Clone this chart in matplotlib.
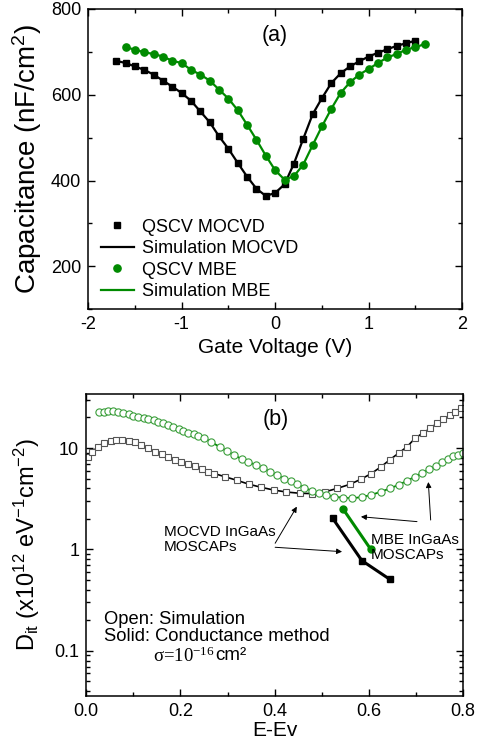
import matplotlib
matplotlib.use('Agg')
import matplotlib.pyplot as plt
from matplotlib.ticker import MultipleLocator, FixedLocator, FixedFormatter, LogLocator, NullFormatter

plt.rcParams['font.family'] = ['Liberation Sans', 'DejaVu Sans']
plt.rcParams['mathtext.default'] = 'regular'
plt.rcParams['axes.unicode_minus'] = False

GREEN = '#008a00'

# --- (a) quasi-static C-V
v_mocvd = [-1.7, -1.6, -1.5, -1.4, -1.3, -1.2, -1.1, -1.0, -0.9, -0.8, -0.7,
           -0.6, -0.5, -0.4, -0.3, -0.2, -0.1, 0.0, 0.1, 0.2, 0.3, 0.4, 0.5,
           0.6, 0.7, 0.8, 0.9, 1.0, 1.1, 1.2, 1.3, 1.4, 1.5]
c_mocvd = [679, 674, 666, 658, 647, 633, 619, 604, 586, 561, 536, 503, 474,
           441, 409, 381, 364, 371, 391, 439, 497, 554, 592, 627, 650, 666,
           678, 689, 698, 706, 714, 720, 726]
v_mbe = [-1.6, -1.5, -1.4, -1.3, -1.2, -1.1, -1.0, -0.9, -0.8, -0.7, -0.6,
         -0.5, -0.4, -0.3, -0.2, -0.1, 0.0, 0.1, 0.2, 0.3, 0.4, 0.5, 0.6,
         0.7, 0.8, 0.9, 1.0, 1.1, 1.2, 1.3, 1.4, 1.5, 1.6]
c_mbe = [711, 705, 699, 695, 689, 679, 674, 658, 647, 633, 612, 591, 564,
         530, 495, 458, 424, 402, 410, 437, 482, 526, 567, 604, 629, 647,
         660, 674, 687, 695, 705, 711, 718]

# --- (b) Dit vs energy
e_sim_mocvd = [0.003, 0.013, 0.025, 0.038, 0.052, 0.064, 0.077, 0.091, 0.104,
               0.117, 0.132, 0.146, 0.160, 0.174, 0.188, 0.202, 0.216, 0.231,
               0.245, 0.259, 0.272, 0.295, 0.320, 0.345, 0.371, 0.398, 0.425,
               0.453, 0.480, 0.507, 0.533, 0.560, 0.584, 0.605, 0.626, 0.645,
               0.663, 0.681, 0.698, 0.714, 0.730, 0.744, 0.758, 0.772, 0.783,
               0.796]
d_sim_mocvd = [8.2, 9.2, 10.3, 11.3, 11.8, 12.0, 12.0, 11.8, 11.5, 10.7, 9.9,
               9.2, 8.7, 8.2, 7.7, 7.3, 6.95, 6.65, 6.2, 5.85, 5.6, 5.2, 4.8,
               4.4, 4.1, 3.85, 3.68, 3.58, 3.55, 3.7, 4.0, 4.39, 4.95, 5.6,
               6.55, 7.7, 8.9, 10.3, 12.5, 14.0, 15.6, 17.5, 19.3, 21.1, 22.8,
               24.6]
e_sim_mbe = [0.028, 0.037, 0.047, 0.057, 0.068, 0.079, 0.090, 0.100, 0.111,
             0.122, 0.132, 0.143, 0.153, 0.163, 0.174, 0.185, 0.196, 0.206,
             0.217, 0.228, 0.238, 0.250, 0.265, 0.284, 0.299, 0.314, 0.330,
             0.344, 0.360, 0.375, 0.390, 0.405, 0.420, 0.434, 0.448, 0.463,
             0.479, 0.493, 0.509, 0.525, 0.545, 0.565, 0.585, 0.605, 0.625,
             0.645, 0.663, 0.681, 0.697, 0.713, 0.728, 0.742, 0.755, 0.767,
             0.778, 0.789, 0.800]
d_sim_mbe = [22.8, 22.8, 23.2, 23.3, 22.8, 22.3, 21.6, 20.8, 20.0, 19.6, 19.2,
             18.7, 18.1, 17.5, 16.9, 16.2, 15.4, 14.8, 14.2, 13.6, 13.1, 12.5,
             11.5, 10.2, 9.3, 8.5, 7.8, 7.3, 6.8, 6.3, 5.85, 5.4, 5.0, 4.73,
             4.39, 4.06, 3.79, 3.58, 3.45, 3.32, 3.23, 3.20, 3.28, 3.45, 3.70,
             4.0, 4.33, 4.75, 5.2, 5.7, 6.15, 6.65, 7.2, 7.8, 8.3, 8.6, 8.9]
e_cond_mocvd = [0.523, 0.585, 0.644]
d_cond_mocvd = [2.03, 0.776, 0.508]
e_cond_mbe = [0.545, 0.604]
d_cond_mbe = [2.51, 1.0]

fig = plt.figure(figsize=(4.84, 7.45), dpi=100)
ax1 = fig.add_axes([0.182, 0.585, 0.773, 0.403])
ax2 = fig.add_axes([0.178, 0.066, 0.779, 0.405])

for ax in (ax1, ax2):
    for s in ax.spines.values():
        s.set_linewidth(1.1)
    ax.tick_params(which='both', direction='in', top=True, right=True,
                   labelsize=13, width=1, pad=5)
    ax.tick_params(which='major', length=5)
    ax.tick_params(which='minor', length=3)

# (a)
l1, = ax1.plot(v_mocvd, c_mocvd, '-', color='k', lw=1.6)
m1, = ax1.plot(v_mocvd, c_mocvd, 's', color='k', ms=4.8, ls='none')
l2, = ax1.plot(v_mbe, c_mbe, '-', color=GREEN, lw=1.6)
m2, = ax1.plot(v_mbe, c_mbe, 'o', color=GREEN, ms=5.2, ls='none')
ax1.set_xlim(-2, 2)
ax1.set_ylim(100, 800)
ax1.xaxis.set_major_locator(MultipleLocator(1))
ax1.xaxis.set_minor_locator(MultipleLocator(0.5))
ax1.yaxis.set_major_locator(FixedLocator([200, 400, 600, 800]))
ax1.yaxis.set_minor_locator(MultipleLocator(100))
ax1.set_xlabel('Gate Voltage (V)', fontsize=15)
ax1.set_ylabel('Capacitance (nF/cm$^2$)', fontsize=20)
ax1.xaxis.set_label_coords(0.5, -0.095)
ax1.yaxis.set_label_coords(-0.118, 0.5)
ax1.text(0.0, 739, '(a)', fontsize=15.5, ha='center', va='center')
ax1.legend([m1, l1, m2, l2],
           ['QSCV MOCVD', 'Simulation MOCVD', 'QSCV MBE', 'Simulation MBE'],
           loc='lower left', bbox_to_anchor=(0.035, 0.03), frameon=False,
           fontsize=13, handlelength=1.8, handletextpad=0.45,
           labelspacing=0.25, borderpad=0, borderaxespad=0)

# (b)
ax2.set_yscale('log')
ax2.plot(e_sim_mocvd, d_sim_mocvd, '-', color='k', lw=1.2, marker='s', ms=5,
         mfc='white', mec='#555555', mew=0.8)
ax2.plot(e_sim_mbe, d_sim_mbe, '-', color=GREEN, lw=1.3, marker='o', ms=5.2,
         mfc='white', mec='#3a9e3a', mew=0.8)
ax2.plot(e_cond_mocvd, d_cond_mocvd, '-s', color='k', lw=2.2, ms=4.5)
ax2.plot(e_cond_mbe, d_cond_mbe, '-o', color=GREEN, lw=2.2, ms=5)
ax2.set_xlim(0, 0.8)
ax2.set_ylim(0.036, 34)
ax2.xaxis.set_major_locator(MultipleLocator(0.2))
ax2.xaxis.set_minor_locator(MultipleLocator(0.1))
ax2.xaxis.set_major_formatter(matplotlib.ticker.FormatStrFormatter('%.1f'))
ax2.yaxis.set_major_locator(FixedLocator([0.1, 1, 10]))
ax2.yaxis.set_major_formatter(FixedFormatter(['0.1', '1', '10']))
ax2.yaxis.set_minor_locator(LogLocator(base=10, subs=range(2, 10)))
ax2.yaxis.set_minor_formatter(NullFormatter())
ax2.set_xlabel('E-Ev', fontsize=15)
ax2.set_ylabel('D$_{it}$ (x10$^{12}$ eV$^{-1}$cm$^{-2}$)', fontsize=17)
ax2.xaxis.set_label_coords(0.5, -0.085)
ax2.yaxis.set_label_coords(-0.117, 0.5)
ax2.text(0.402, 18.9, '(b)', fontsize=15.5, ha='center', va='center')

ax2.text(0.207, 0.517, 'MOCVD InGaAs\nMOSCAPs', transform=ax2.transAxes,
         fontsize=11, ha='left', va='center', linespacing=1.1)
ax2.text(0.756, 0.492, 'MBE InGaAs\nMOSCAPs', transform=ax2.transAxes,
         fontsize=11, ha='left', va='center', linespacing=1.1, clip_on=False)
arrow = dict(arrowstyle='-|>', color='k', lw=0.7, mutation_scale=8,
             shrinkA=0, shrinkB=0)
ax2.annotate('', xy=(0.447, 2.64), xytext=(0.401, 1.15), arrowprops=arrow)
ax2.annotate('', xy=(0.543, 0.95), xytext=(0.401, 1.05), arrowprops=arrow)
ax2.annotate('', xy=(0.583, 2.10), xytext=(0.702, 1.88), arrowprops=arrow)
ax2.annotate('', xy=(0.726, 4.62), xytext=(0.731, 1.95), arrowprops=arrow)

ax2.text(0.048, 0.252, 'Open: Simulation', transform=ax2.transAxes,
         fontsize=13.2, va='center')
ax2.text(0.048, 0.197, 'Solid: Conductance method', transform=ax2.transAxes,
         fontsize=13.2, va='center')
t = ax2.text(0.178, 0.132, r'$\sigma$=10$^{-16}$', transform=ax2.transAxes,
             fontsize=13.5, va='center', family='Liberation Serif',
             math_fontfamily='stix')
ax2.annotate('cm\u00b2', xy=(1, 0.08), xycoords=t, fontsize=13.5,
             ha='left', va='bottom')

fig.savefig('out.png', dpi=100)
